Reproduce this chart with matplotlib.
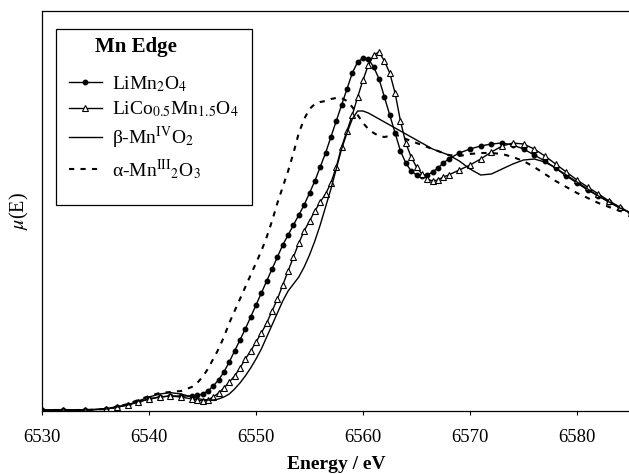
import matplotlib
matplotlib.use("Agg")
from matplotlib import pyplot as plt
from matplotlib.patches import Rectangle

plt.rcParams['font.family'] = ['Liberation Serif', 'DejaVu Serif']
plt.rcParams['mathtext.fontset'] = 'stix'

# energy grid (eV) shared by all four spectra
energy = [6530, 6532, 6534, 6536, 6537, 6538, 6539, 6540, 6541, 6542, 6543,
          6544, 6544.5, 6545, 6545.5, 6546, 6546.5, 6547, 6547.5, 6548, 6548.5,
          6549, 6549.5, 6550, 6550.5, 6551, 6551.5, 6552, 6552.5, 6553, 6553.5,
          6554, 6554.5, 6555, 6555.5, 6556, 6556.5, 6557, 6557.5, 6558, 6558.5,
          6559, 6559.5, 6560, 6560.5, 6561, 6561.5, 6562, 6562.5, 6563, 6563.5,
          6564, 6564.5, 6565, 6565.5, 6566, 6566.5, 6567, 6567.5, 6568,
          6569, 6570, 6571, 6572, 6573, 6574, 6575, 6576, 6577, 6578, 6579,
          6580, 6581, 6582, 6583, 6584, 6585]

limn2o4 = [.005, .005, .005, .01, .02, .03, .045, .06, .07, .075, .075,
           .075, .078, .085, .10, .125, .155, .195, .245, .30, .355,
           .41, .47, .53, .59, .65, .71, .77, .83, .88, .93,
           .98, 1.03, 1.09, 1.15, 1.22, 1.29, 1.37, 1.45, 1.53, 1.61,
           1.69, 1.745, 1.765, 1.76, 1.72, 1.66, 1.57, 1.48, 1.39, 1.30,
           1.24, 1.20, 1.18, 1.175, 1.18, 1.195, 1.215, 1.24, 1.26,
           1.29, 1.31, 1.325, 1.335, 1.34, 1.33, 1.31, 1.28, 1.25, 1.215, 1.175,
           1.14, 1.105, 1.075, 1.045, 1.015, 0.99]

lico = [.005, .005, .005, .01, .02, .03, .045, .06, .07, .075, .07,
        .06, .055, .05, .055, .07, .09, .115, .145, .175, .215,
        .26, .30, .345, .39, .44, .50, .56, .63, .70, .77,
        .84, .90, .95, 1.0, 1.045, 1.085, 1.14, 1.22, 1.32, 1.40,
        1.48, 1.57, 1.655, 1.73, 1.78, 1.795, 1.75, 1.69, 1.59, 1.45,
        1.34, 1.27, 1.22, 1.185, 1.16, 1.15, 1.155, 1.17, 1.18,
        1.205, 1.23, 1.26, 1.295, 1.325, 1.34, 1.335, 1.31, 1.275, 1.235, 1.195,
        1.155, 1.12, 1.085, 1.05, 1.02, 0.99]

mno2 = [.005, .005, .005, .01, .02, .03, .05, .07, .085, .092, .085,
        .07, .062, .058, .055, .055, .06, .07, .085, .11, .14,
        .175, .215, .26, .31, .37, .43, .49, .55, .60, .635,
        .67, .72, .78, .85, .93, 1.02, 1.11, 1.21, 1.31, 1.39,
        1.46, 1.50, 1.50, 1.49, 1.475, 1.46, 1.445, 1.43, 1.415, 1.40,
        1.385, 1.37, 1.355, 1.34, 1.325, 1.31, 1.30, 1.29, 1.28,
        1.25, 1.21, 1.18, 1.185, 1.21, 1.235, 1.255, 1.26, 1.245, 1.215, 1.18,
        1.145, 1.11, 1.075, 1.045, 1.015, 0.99]

mn2o3 = [.005, .005, .005, .01, .02, .035, .055, .075, .09, .095, .10,
         .12, .14, .17, .21, .26, .31, .37, .44, .50, .56,
         .62, .68, .74, .80, .87, .95, 1.04, 1.12, 1.20, 1.29,
         1.39, 1.46, 1.51, 1.535, 1.545, 1.55, 1.56, 1.565, 1.565, 1.55,
         1.52, 1.48, 1.44, 1.41, 1.39, 1.375, 1.37, 1.375, 1.38, 1.375,
         1.36, 1.35, 1.34, 1.33, 1.32, 1.31, 1.30, 1.29, 1.28,
         1.275, 1.285, 1.29, 1.29, 1.285, 1.27, 1.25, 1.22, 1.185, 1.15, 1.12,
         1.09, 1.065, 1.04, 1.02, 1.0, 0.99]

labels = [r'LiMn$_2$O$_4$', r'LiCo$_{0.5}$Mn$_{1.5}$O$_4$',
          r'β-Mn$^{\mathrm{IV}}$O$_2$', r'α-Mn$^{\mathrm{III}}{}_2$O$_3$']
xticks = [6530, 6540, 6550, 6560, 6570, 6580]

W, H = 629, 474
fig = plt.figure(figsize=(W/100, H/100), dpi=100)
ax = fig.add_axes([42/W, 63/H, 588.5/W, 400/H])

ax.plot(energy, limn2o4, color='black', lw=1.0, marker='o', ms=3.2, label=labels[0])
ax.plot(energy, lico, color='black', lw=1.0, marker='^', ms=3.8, mfc='white',
        mew=0.8, label=labels[1])
ax.plot(energy, mno2, color='black', lw=1.0, label=labels[2])
ax.plot(energy, mn2o3, color='black', lw=1.5, ls=(0, (2.5, 3)), label=labels[3])

ax.set_xlim(6530, 6585)
ax.set_ylim(0, 2.0)
ax.set_xticks(xticks)
ax.set_yticks([])
ax.tick_params(axis='x', direction='out', length=3, width=0.8, labelsize=13.5, pad=10)
for s in ax.spines.values():
    s.set_linewidth(0.9)

ax.set_xlabel('Energy / eV', fontsize=14, fontweight='bold', labelpad=7)
ax.set_ylabel(r'$\mu$(E)', fontsize=14.5, labelpad=8)

# legend box drawn by hand, entries without frame
box = Rectangle((56/W, 1 - 205/H), 196/W, 176/H, transform=fig.transFigure,
                facecolor='white', edgecolor='black', lw=0.9, zorder=5, clip_on=False)
ax.add_patch(box)
ax.text(136/W, 1 - 47/H, 'Mn Edge', transform=fig.transFigure, fontsize=15,
        fontweight='bold', ha='center', va='center', zorder=6)
leg = ax.legend(loc='upper left', bbox_to_anchor=((63 - 42)/588.5, (411 - 68)/400),
                borderaxespad=0, frameon=False, fontsize=14,
                handlelength=1.7, numpoints=1, borderpad=0.3, labelspacing=0.3,
                handletextpad=0.5)
leg.set_zorder(7)

plt.savefig('out.png', dpi=100)
